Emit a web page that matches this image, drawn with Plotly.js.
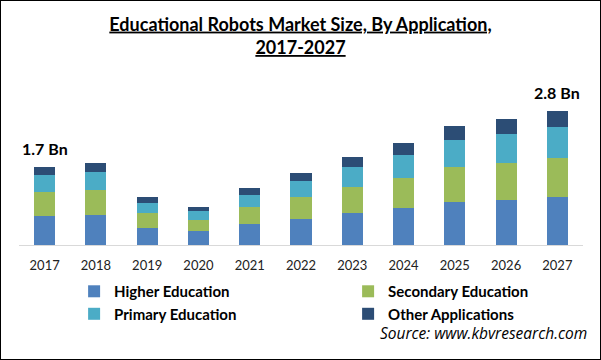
<!DOCTYPE html>
<html>
<head>
<meta charset="utf-8">
<script src="https://cdn.plot.ly/plotly-3.0.1.min.js"></script>
<style>
  html, body { margin: 0; padding: 0; background: #fff; }
  #wrap { position: relative; width: 601px; height: 360px; }
  #chart { width: 601px; height: 360px; }
  #frame { position: absolute; left: 0; top: 0; width: 601px; height: 360px; box-sizing: border-box; border: 1px solid #000; pointer-events: none; }
</style>
</head>
<body>
<div id="wrap"><div id="chart"></div><div id="frame"></div></div>
<script>
const years = ["2017","2018","2019","2020","2021","2022","2023","2024","2025","2026","2027"];
const higherEducation    = [0.61, 0.63, 0.36, 0.29, 0.44, 0.55, 0.67, 0.78, 0.90, 0.95, 1.01];
const secondaryEducation = [0.50, 0.53, 0.32, 0.23, 0.36, 0.46, 0.55, 0.63, 0.74, 0.78, 0.82];
const primaryEducation   = [0.36, 0.38, 0.21, 0.19, 0.25, 0.34, 0.42, 0.48, 0.57, 0.61, 0.65];
const otherApplications  = [0.17, 0.19, 0.13, 0.08, 0.15, 0.17, 0.21, 0.25, 0.29, 0.32, 0.34];
const seriesNames = ["Higher Education", "Secondary Education", "Primary Education", "Other Applications"];
const labelYears = ["2017", "2027"];
const labelTexts = ["1.7 Bn", "2.8 Bn"];

const colors = ["#4f81bd", "#9bbb59", "#4bacc6", "#2c4d75"];
const seriesValues = [higherEducation, secondaryEducation, primaryEducation, otherApplications];

const traces = seriesValues.map((vals, i) => ({
  type: "bar",
  name: seriesNames[i],
  x: years,
  y: vals,
  marker: { color: colors[i], line: { width: 0 } },
  hoverinfo: "skip"
}));

const totals = years.map((_, j) => seriesValues.reduce((s, v) => s + v[j], 0));

const annotations = labelYears.map((yr, k) => ({
  x: years.indexOf(yr),
  y: totals[years.indexOf(yr)],
  xref: "x", yref: "y",
  text: "<b>" + labelTexts[k] + "</b>",
  showarrow: false,
  xanchor: "center",
  yanchor: "bottom",
  yshift: 7,
  font: { family: "Lato", size: 16, color: "#000" }
}));
annotations.push({
  xref: "paper", yref: "paper",
  x: 1.01, y: -0.58,
  xanchor: "right", yanchor: "middle",
  text: "<i>Source: www.kbvresearch.com</i>",
  showarrow: false,
  font: { family: "Open Sans", size: 15.5, color: "#000" }
});

const layout = {
  width: 601, height: 360,
  margin: { l: 19, r: 18, t: 93, b: 115 },
  paper_bgcolor: "#fff",
  plot_bgcolor: "#fff",
  barmode: "stack",
  bargap: 0.59,
  showlegend: true,
  title: {
    text: "<b><u>Educational Robots Market Size, By Application,</u></b><br><b><u>2017-2027</u></b>",
    font: { family: "Lato", size: 18, color: "#000" },
    x: 0.5, xanchor: "center",
    yref: "container", y: 0.915, yanchor: "top"
  },
  xaxis: {
    type: "category",
    range: [-0.5, 10.5],
    showline: true, linecolor: "#d9d9d9", linewidth: 1,
    showgrid: false, zeroline: false,
    ticks: "",
    ticklabelstandoff: 8,
    tickfont: { family: "Lato", size: 13, color: "#222" }
  },
  yaxis: {
    range: [0, 3.2],
    visible: false,
    showgrid: false, zeroline: false
  },
  legend: {
    orientation: "h",
    traceorder: "normal",
    xref: "container", yref: "container",
    x: 0.1233, y: 0.236,
    xanchor: "left", yanchor: "top",
    entrywidth: 229, entrywidthmode: "pixels",
    font: { family: "Lato", size: 15, color: "#000", weight: "bold" },
    itemwidth: 30,
    tracegroupgap: 0,
    bgcolor: "rgba(0,0,0,0)"
  },
  annotations: annotations
};

Plotly.newPlot("chart", traces, layout, { displayModeBar: false, staticPlot: true });
</script>
</body>
</html>
